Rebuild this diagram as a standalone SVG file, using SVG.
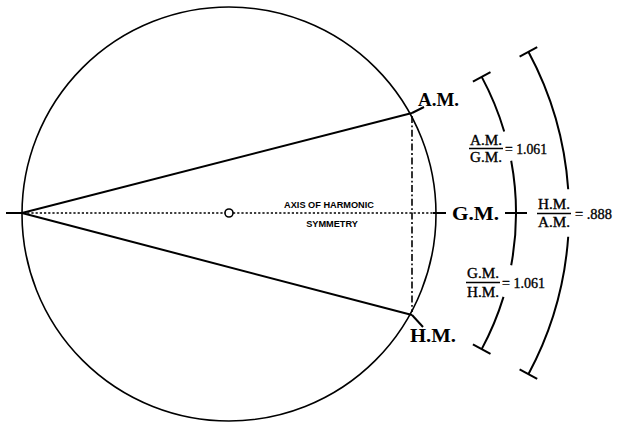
<svg xmlns="http://www.w3.org/2000/svg" width="617" height="424" viewBox="0 0 617 424">
<style>
.ln{fill:none;stroke:#000;stroke-width:2;stroke-linecap:butt}
.thin{fill:none;stroke:#000;stroke-width:1.6}
.dot{fill:none;stroke:#000;stroke-width:1.6;stroke-dasharray:2.2,2}
.dd{fill:none;stroke:#000;stroke-width:1.6;stroke-dasharray:7,2.5,1.8,2.5}
.lab{font-family:"Liberation Serif","Times New Roman",serif;font-weight:bold;font-size:19px;fill:#000}
.fr{font-family:"Liberation Serif","Times New Roman",serif;font-size:14.5px;fill:#000;stroke:#000;stroke-width:0.35}
.ax{font-family:"Liberation Sans",Arial,sans-serif;font-weight:bold;font-size:9.2px;fill:#000}
</style>
<rect width="617" height="424" fill="#fff"/>
<g id="circle">
<circle cx="229" cy="214" r="207" class="thin"/>
</g>
<g id="connectors">
<line x1="6" y1="213" x2="23" y2="213" class="ln"/>
<line x1="23" y1="213" x2="433" y2="213" class="dot"/>
<line x1="433" y1="213" x2="446" y2="213" class="ln"/>
<line x1="22" y1="213" x2="412" y2="113" class="ln"/>
<line x1="22" y1="213" x2="412" y2="315" class="ln"/>
<line x1="412" y1="113" x2="424" y2="107" class="ln"/>
<line x1="412" y1="315" x2="423" y2="327" class="ln"/>
<line x1="412" y1="116" x2="412" y2="312" class="dd"/>
</g>
<g id="center">
<circle cx="229" cy="213" r="4" fill="#fff" stroke="#000" stroke-width="1.6"/>
</g>
<g id="axis-label">
<text class="ax" x="329" y="208" text-anchor="middle">AXIS OF HARMONIC</text>
<text class="ax" x="332" y="227" text-anchor="middle">SYMMETRY</text>
</g>
<g id="am">
<text class="lab" x="418" y="106" textLength="41" lengthAdjust="spacingAndGlyphs">A.M.</text>
</g>
<g id="gm">
<text class="lab" x="452" y="220" textLength="47" lengthAdjust="spacingAndGlyphs">G.M.</text>
</g>
<g id="hm">
<text class="lab" x="410" y="342" textLength="46" lengthAdjust="spacingAndGlyphs">H.M.</text>
</g>
<g id="inner-arc">
<path class="ln" d="M481.7,76.9 A287,287 0 0 1 504.2,131.5"/>
<path class="ln" d="M511.2,160.7 A287,287 0 0 1 511.2,265.3"/>
<path class="ln" d="M503.5,296.9 A287,287 0 0 1 481.7,349.1"/>
<line class="ln" x1="472.9" y1="81.6" x2="490.5" y2="72.2"/>
<line class="ln" x1="472.9" y1="344.4" x2="490.5" y2="353.8"/>
<line class="ln" x1="505" y1="213" x2="527" y2="213"/>
</g>
<g id="outer-arc">
<path class="ln" d="M528.4,51.8 A340,340 0 0 1 568.2,189.3"/>
<path class="ln" d="M568.2,236.7 A340,340 0 0 1 528.4,374.2"/>
<line class="ln" x1="519.6" y1="56.7" x2="537.2" y2="47.1"/>
<line class="ln" x1="519.6" y1="369.3" x2="537.2" y2="378.9"/>
</g>
<g id="ratio-am-gm">
<text class="fr" x="470" y="145" textLength="32" lengthAdjust="spacingAndGlyphs">A.M.</text>
<line x1="469" y1="148.5" x2="503" y2="148.5" stroke="#000" stroke-width="1.3"/>
<text class="fr" x="470" y="162" textLength="32" lengthAdjust="spacingAndGlyphs">G.M.</text>
<text class="fr" x="505" y="154" textLength="42" lengthAdjust="spacingAndGlyphs">= 1.061</text>
</g>
<g id="ratio-gm-hm">
<text class="fr" x="467" y="278" textLength="32" lengthAdjust="spacingAndGlyphs">G.M.</text>
<line x1="466" y1="282.5" x2="500" y2="282.5" stroke="#000" stroke-width="1.3"/>
<text class="fr" x="467" y="297" textLength="32" lengthAdjust="spacingAndGlyphs">H.M.</text>
<text class="fr" x="502" y="288" textLength="43" lengthAdjust="spacingAndGlyphs">= 1.061</text>
</g>
<g id="ratio-hm-am">
<text class="fr" x="538" y="209" textLength="32" lengthAdjust="spacingAndGlyphs">H.M.</text>
<line x1="537" y1="213.5" x2="571" y2="213.5" stroke="#000" stroke-width="1.3"/>
<text class="fr" x="538" y="227" textLength="32" lengthAdjust="spacingAndGlyphs">A.M.</text>
<text class="fr" x="575" y="219" textLength="37" lengthAdjust="spacingAndGlyphs">= .888</text>
</g>
</svg>
